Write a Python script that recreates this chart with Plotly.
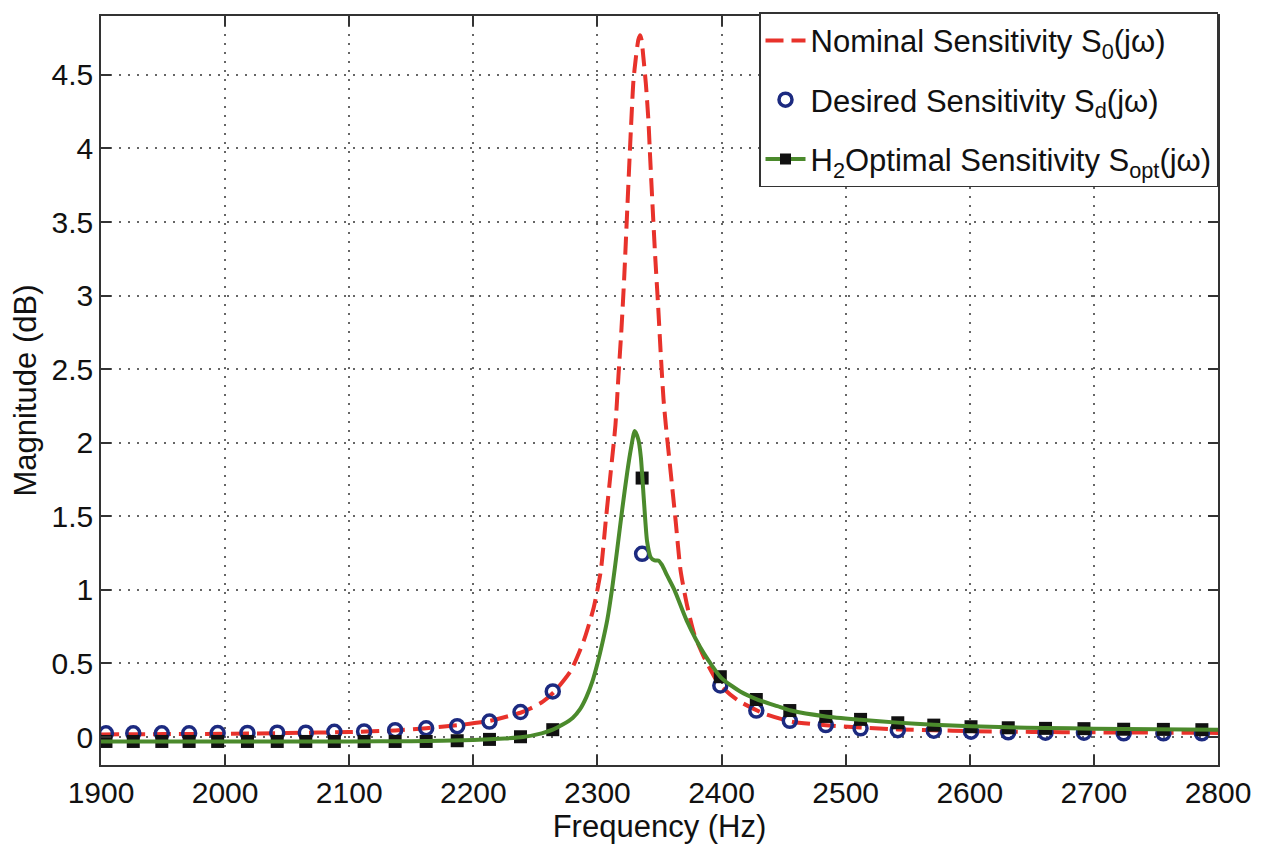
import plotly.graph_objects as go

# Nominal sensitivity |S0(jw)| (dB)
freq_nominal = [1900, 1950, 2000, 2050, 2100, 2137, 2162, 2187, 2213, 2238, 2246, 2256,
                2265, 2278.5, 2289, 2297, 2302.7, 2306.7, 2310.7, 2314.5, 2316.9, 2319.4,
                2321.5, 2324.2, 2326.9, 2329, 2331, 2333, 2334.4, 2335.5, 2337, 2339,
                2341, 2342.4, 2344.4, 2346.5, 2348.9, 2351.1, 2353.2, 2355.1, 2359, 2363,
                2367, 2372.6, 2378, 2386, 2398, 2413, 2434, 2456, 2484, 2512, 2542, 2571,
                2601, 2650, 2700, 2750, 2800]
mag_nominal = [0.018, 0.02, 0.022, 0.027, 0.034, 0.045, 0.06, 0.08, 0.11, 0.165, 0.194, 0.24,
               0.306, 0.45, 0.655, 0.88, 1.13, 1.47, 1.80, 2.12, 2.45, 2.78,
               3.11, 3.62, 4.12, 4.46, 4.62, 4.74, 4.77, 4.74, 4.62, 4.44,
               4.2, 3.95, 3.61, 3.27, 2.93, 2.59, 2.3, 2.12, 1.80, 1.47,
               1.13, 0.88, 0.70, 0.54, 0.36, 0.25, 0.16, 0.105, 0.08, 0.065, 0.052, 0.046,
               0.04, 0.035, 0.032, 0.03, 0.028]

# Sample frequencies where the desired / optimal responses are marked
freq_marks = [1904, 1926, 1949, 1971, 1994, 2018, 2042, 2065, 2088, 2112, 2137, 2162,
              2187, 2213, 2238, 2264, 2336, 2399, 2428, 2455, 2484, 2512, 2542, 2571,
              2601, 2631, 2661, 2692, 2724, 2756, 2787]
mag_desired = [0.025, 0.025, 0.025, 0.026, 0.027, 0.028, 0.03, 0.03, 0.036, 0.038, 0.047, 0.06,
               0.074, 0.105, 0.17, 0.31, 1.245, 0.35, 0.18, 0.11, 0.081, 0.059, 0.047, 0.043,
               0.036, 0.032, 0.029, 0.029, 0.025, 0.025, 0.025]
mag_optimal_marks = [-0.03, -0.03, -0.03, -0.03, -0.03, -0.03, -0.03, -0.03, -0.03, -0.03, -0.03, -0.03,
                     -0.025, -0.016, 0.002, 0.05, 1.76, 0.41, 0.255, 0.18, 0.14, 0.12, 0.097, 0.081,
                     0.07, 0.063, 0.059, 0.057, 0.053, 0.052, 0.05]

# H2-optimal sensitivity |Sopt(jw)| (dB)
freq_optimal = [1900, 2000, 2100, 2150, 2200, 2225, 2240, 2255, 2264, 2272, 2280, 2286,
                2291, 2296, 2300, 2304, 2308, 2312, 2316, 2320, 2324, 2327, 2330, 2333,
                2335, 2337.5, 2340, 2343, 2346, 2349, 2352, 2356, 2362, 2372, 2386, 2400,
                2415, 2429, 2445, 2456, 2484, 2512, 2542, 2571, 2601, 2631, 2661, 2700,
                2750, 2800]
mag_optimal = [-0.03, -0.03, -0.03, -0.028, -0.02, -0.01, 0.0, 0.025, 0.05, 0.085, 0.13, 0.19,
               0.27, 0.38, 0.5, 0.64, 0.8, 1.02, 1.28, 1.55, 1.8, 1.96, 2.08, 2.02,
               1.9, 1.6, 1.33, 1.22, 1.2, 1.2, 1.17, 1.1, 1.0, 0.79, 0.565, 0.4,
               0.31, 0.255, 0.21, 0.18, 0.14, 0.118, 0.098, 0.083, 0.073, 0.066, 0.062, 0.057,
               0.053, 0.05]

x_ticks = list(range(1900, 2801, 100))
y_ticks = [0, 0.5, 1, 1.5, 2, 2.5, 3, 3.5, 4, 4.5]

RED = "#e8322b"
NAVY = "#1c2a80"
GREEN = "#4b8a2c"
FONT = "Liberation Sans, Arial, Helvetica, sans-serif"

fig = go.Figure()

fig.add_trace(go.Scatter(
    x=freq_nominal, y=mag_nominal, mode="lines",
    line=dict(color=RED, width=4, dash="18px,8px", shape="spline", smoothing=0.6),
    name="Nominal Sensitivity S<sub>0</sub>(jω)", legendgroup="a",
))
fig.add_trace(go.Scatter(
    x=freq_marks, y=mag_desired, mode="markers",
    marker=dict(symbol="circle-open", size=13, color=NAVY, line=dict(width=3.5, color=NAVY)),
    name="Desired Sensitivity S<sub>d</sub>(jω)", legendgroup="b",
))
fig.add_trace(go.Scatter(
    x=freq_marks, y=mag_optimal_marks, mode="markers",
    marker=dict(symbol="square", size=13, color="#111111"),
    showlegend=False, legendgroup="c",
))
fig.add_trace(go.Scatter(
    x=freq_optimal, y=mag_optimal, mode="lines",
    line=dict(color=GREEN, width=4, shape="spline", smoothing=0.6),
    showlegend=False, legendgroup="c",
))
# legend entry: solid line with square marker
fig.add_trace(go.Scatter(
    x=[None], y=[None], mode="lines+markers",
    line=dict(color=GREEN, width=4),
    marker=dict(symbol="square", size=11, color="#111111"),
    name="H<sub>2</sub>Optimal Sensitivity S<sub>opt</sub>(jω)", legendgroup="c",
))

axis_common = dict(
    showline=True, linecolor="#333333", linewidth=1.5, mirror="ticks",
    ticks="inside", ticklen=10, tickwidth=1.5, tickcolor="#333333",
    showgrid=True, gridcolor="#666666", griddash="2px,7px", gridwidth=1.5,
    zeroline=False,
    tickfont=dict(family=FONT, size=30, color="#111111"),
)

fig.update_xaxes(
    range=[1900, 2800], tickvals=x_ticks,
    title=dict(text="Frequency (Hz)", font=dict(family=FONT, size=31, color="#111111"), standoff=6),
    **axis_common,
)
fig.update_yaxes(
    range=[-0.19, 4.9], tickvals=y_ticks,
    title=dict(text="Magnitude (dB)", font=dict(family=FONT, size=31, color="#111111"), standoff=6),
    **axis_common,
)

fig.update_layout(
    width=1269, height=850,
    margin=dict(l=101, r=51, t=12, b=85),
    plot_bgcolor="white", paper_bgcolor="white",
    legend=dict(
        x=1, y=1.005, xanchor="right", yanchor="top",
        bgcolor="white", bordercolor="#333333", borderwidth=1.5,
        font=dict(family=FONT, size=31, color="#111111"),
        tracegroupgap=16, itemwidth=40,
    ),
)

fig.write_html("out.html")
